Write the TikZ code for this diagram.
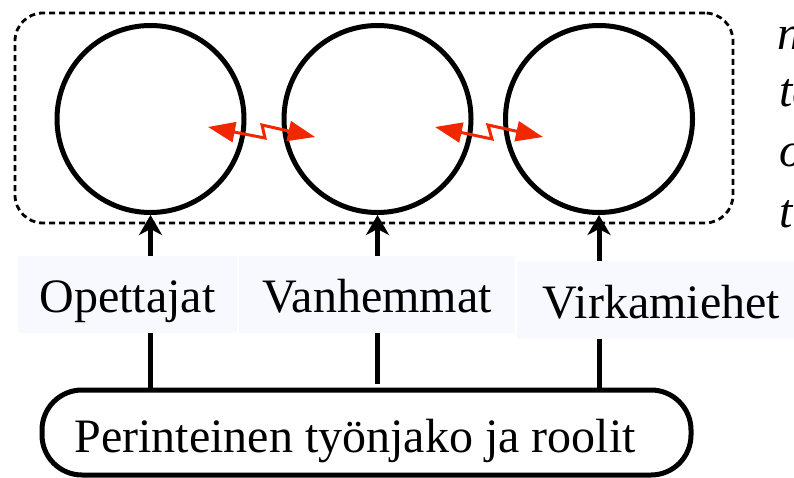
\documentclass[tikz,border=0pt]{standalone}
\usepackage{fontspec}
\setmainfont{Liberation Serif}
\usetikzlibrary{arrows.meta}
\definecolor{zigred}{RGB}{240,40,0}
\definecolor{labfill}{RGB}{248,248,255}
\begin{document}
\begin{tikzpicture}[x=1pt,y=-1pt,
  font=\fontsize{48}{58}\selectfont,
  ring/.style={circle,draw,line width=5pt,minimum size=187pt,inner sep=0pt},
  grpbox/.style={draw,line width=2.8pt,dash pattern=on 6pt off 4pt,rounded corners=28pt,minimum width=718pt,minimum height=210pt,inner sep=0pt},
  lab/.style={fill=labfill,inner xsep=0pt,inner ysep=0pt,text height=56pt,text depth=21pt},
  basebox/.style={draw,line width=5pt,rounded corners=40pt,minimum width=649pt,minimum height=85pt,inner sep=0pt},
  uparr/.style={line width=5pt,-{Stealth[length=20pt,width=23pt,inset=6pt]}},
  conn/.style={line width=5pt},
  zig/.style={draw=zigred,line width=3pt,line join=miter,{Triangle[length=27pt,width=20pt]}-{Triangle[length=27pt,width=20pt]}},
  side/.style={anchor=base west,inner sep=0pt,font=\fontsize{48}{58}\selectfont\itshape}
]
\useasboundingbox (0,0) rectangle (794,478);
\clip (0,0) rectangle (794,478);

% dashed group
\node[grpbox] (grp) at (374,118) {};

% circles
\node[ring] (c1) at (150.5,119) {};
\node[ring] (c2) at (377.5,119) {};
\node[ring] (c3) at (599,119) {};

% red zigzag arrows
\coordinate (z1a) at (208,127);
\coordinate (z1b) at (315,137);
\coordinate (z2a) at (435,127);
\coordinate (z2b) at (543,137);
\draw[zig] (z1a) -- (265,138) -- (262,125) -- (z1b);
\draw[zig] (z2a) -- (492,139) -- (488,125) -- (z2b);

% labels
\node[lab,minimum width=219pt] (l1) at (127.5,294.5) {Opettajat};
\node[lab,minimum width=276pt] (l2) at (377,294.5) {Vanhemmat};
\node[lab,minimum width=289pt,text height=57pt] (l3) at (661.5,300) {Virkamiehet};

% bottom box
\node[basebox] (base) at (366.5,432.5) {};
\node[anchor=base,inner sep=0pt] (basetxt) at (355,452) {Perinteinen työnjako ja roolit};

% arrows up to circles
\draw[uparr] (c1.south |- l1.north) -- (c1.south);
\draw[uparr] (c2.south |- l2.north) -- (c2.south);
\draw[uparr] (c3.south |- l3.north) -- (c3.south);

% lines from base to labels
\draw[conn] (c1.south |- base.north) -- (c1.south |- l1.south);
\draw[conn] (c2.south |- 0,384) -- (c2.south |- l2.south);
\draw[conn] (c3.south |- base.north) -- (c3.south |- l3.south);

% side text, cut off at the right edge as in the reference
\node[side] (s1) at (777,50) {nä};
\node[side] (s2) at (779,107) {te};
\node[side] (s3) at (779,167) {o};
\node[side] (s4) at (779,228) {ti};
\end{tikzpicture}
\end{document}
